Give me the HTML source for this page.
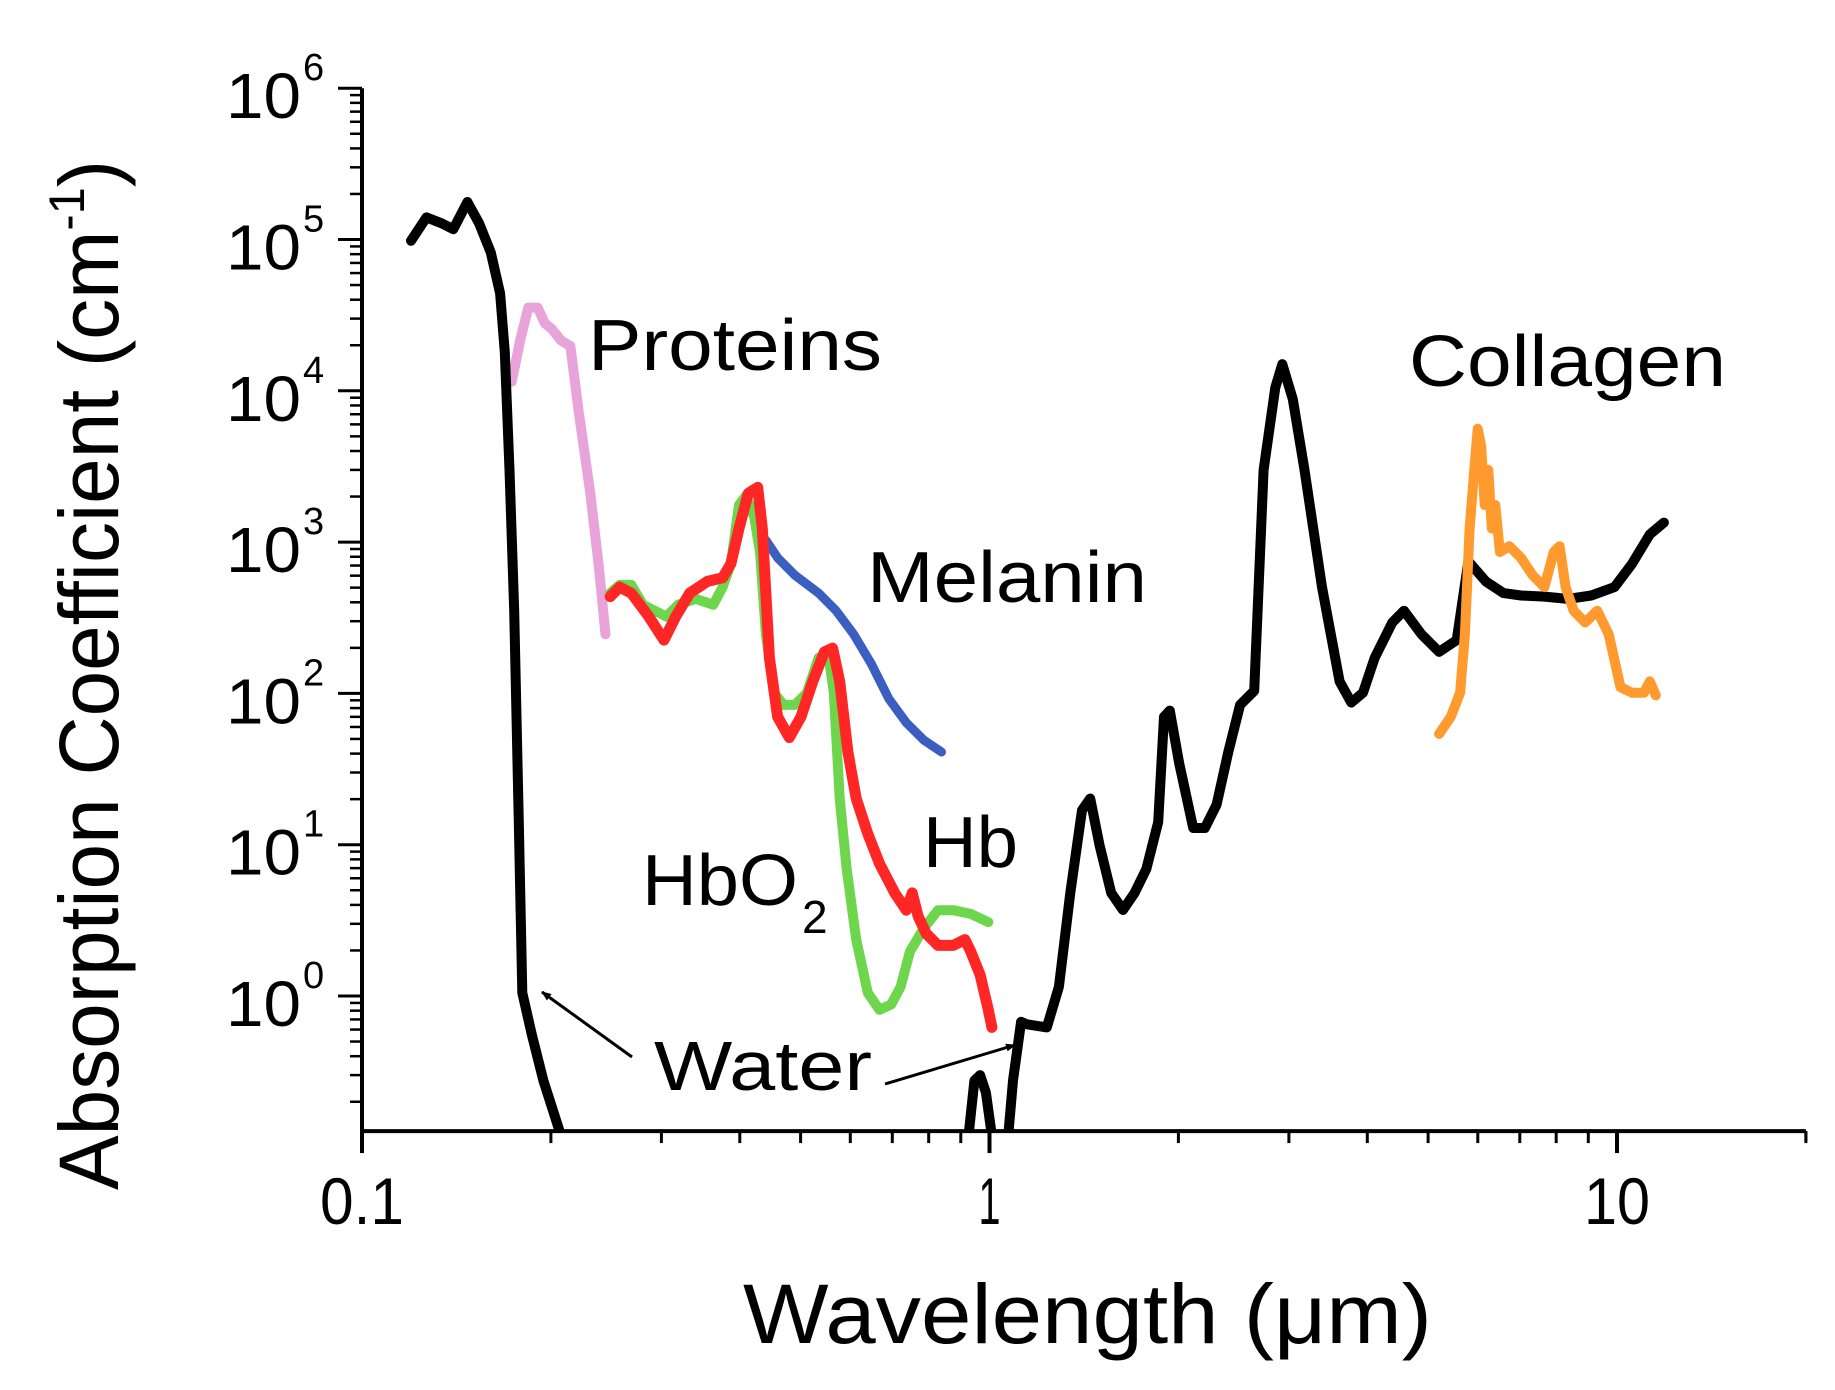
<!DOCTYPE html>
<html><head><meta charset="utf-8"><style>
html,body{margin:0;padding:0;background:#fff;}
svg{display:block;}
text{font-family:"Liberation Sans",sans-serif;fill:#000;}
</style></head><body>
<svg id="chart" width="1835" height="1390" viewBox="0 0 1835 1390" xmlns="http://www.w3.org/2000/svg">
<defs>
<clipPath id="plotclip"><rect x="362" y="60" width="1450" height="1071"/></clipPath>
<marker id="ah" markerWidth="10" markerHeight="8" refX="9" refY="4" orient="auto" markerUnits="userSpaceOnUse"><path d="M0,0 L10,4 L0,8 Z" fill="#000"/></marker>
</defs>
<g id="axes"></g>
<g id="series" clip-path="url(#plotclip)"></g>
<g id="labels">
<text transform="translate(118,1190) rotate(-90)" font-size="84" textLength="1030" lengthAdjust="spacingAndGlyphs">Absorption Coefficient (cm<tspan font-size="50" dy="-34">-1</tspan><tspan dy="34">)</tspan></text>
<text x="743" y="1343" font-size="84" textLength="689" lengthAdjust="spacingAndGlyphs">Wavelength (μm)</text>
<text x="588" y="370" font-size="72" textLength="294" lengthAdjust="spacingAndGlyphs">Proteins</text>
<text x="867" y="602" font-size="72" textLength="280" lengthAdjust="spacingAndGlyphs">Melanin</text>
<text x="1409" y="386" font-size="72" textLength="317" lengthAdjust="spacingAndGlyphs">Collagen</text>
<text x="923" y="867" font-size="72" textLength="95" lengthAdjust="spacingAndGlyphs">Hb</text>
<text x="642" y="905" font-size="72"><tspan textLength="156" lengthAdjust="spacingAndGlyphs">HbO</tspan><tspan font-size="46" dy="28" dx="4">2</tspan></text>
<text x="654" y="1090" font-size="70" textLength="218" lengthAdjust="spacingAndGlyphs">Water</text>
<line x1="632" y1="1057" x2="542" y2="992" stroke="#000" stroke-width="3" marker-end="url(#ah)"/>
<line x1="885" y1="1084" x2="1015" y2="1045" stroke="#000" stroke-width="3" marker-end="url(#ah)"/>
</g>
</svg>
<script>
// axis setup
const xTicksMajor = [0.1, 1, 10];
const xTickLabels = ["0.1", "1", "10"];
const yExp = [0, 1, 2, 3, 4, 5, 6];

// Water (UV segment)
const waterUVx = [0.1197,0.1267,0.1339,0.1398,0.1472,0.1537,0.1604,0.1660,0.1689,0.1718,0.1748,0.1778,0.1801,0.1864,0.1946,0.2076];
const waterUVy = [9.8e4,1.4e5,1.28e5,1.17e5,1.77e5,1.28e5,8.2e4,4.4e4,1.8e4,3000,352,14,1.05,0.56,0.276,0.119];
// Water (near 1um small peak)
const waterPkx = [0.926,0.946,0.966,0.987,1.009];
const waterPky = [0.119,0.276,0.30,0.23,0.119];
// Water (IR)
const waterIRx = [1.071,1.090,1.123,1.147,1.234,1.290,1.345,1.404,1.447,1.498,1.563,1.632,1.703,1.778,1.857,1.897,1.938,2.006,2.112,2.204,2.301,2.402,2.508,2.641,2.734,2.854,2.928,3.043,3.177,3.388,3.613,3.772,3.937,4.110,4.384,4.576,4.880,5.206,5.553,5.797,6.180,6.592,7.031,7.66,8.35,9.10,9.91,10.57,11.28,11.88];
const waterIRy = [0.119,0.276,0.675,0.65,0.62,1.15,4.8,16.9,20.2,9.9,4.8,3.7,4.8,6.9,14.1,70,77,34.5,12.9,12.9,18.4,41,84,104,3000,1.05e4,1.5e4,8800,3000,504,120,87,101,172,294,352,246,188,225,746,550,460,444,436,421,444,504,720,1125,1345];
// Proteins
const protX = [0.1733,0.1786,0.1841,0.1905,0.1955,0.2006,0.2076,0.2148,0.2214,0.2311,0.2382,0.2444];
const protY = [1.15e4,2.15e4,3.55e4,3.55e4,2.8e4,2.57e4,2.15e4,1.97e4,7350,2100,720,246];
// HbO2
const hbo2X = [0.2486,0.2573,0.2686,0.2804,0.2927,0.3055,0.3190,0.3402,0.3629,0.3755,0.3871,0.3988,0.4092,0.4217,0.4308,0.4402,0.4536,0.4695,0.4900,0.5117,0.5342,0.5529,0.5648,0.5771,0.5922,0.6131,0.6397,0.6679,0.6973,0.7217,0.7469,0.7863,0.8278,0.8754,0.9335,0.9956];
const hbo2Y = [460,521,521,385,352,322,385,421,385,504,720,1760,2030,1470,860,246,101,84,84,101,172,188,101,20.2,6.9,2.36,1.05,0.81,0.88,1.15,1.97,2.82,3.69,3.69,3.49,3.08];
// Hb
const hbX = [0.2486,0.2573,0.2686,0.2865,0.3029,0.3162,0.3330,0.3551,0.3755,0.3871,0.3988,0.4127,0.4271,0.4345,0.4459,0.4595,0.4797,0.5008,0.5229,0.5457,0.5623,0.5771,0.5948,0.6131,0.6397,0.6679,0.7063,0.7370,0.7530,0.7695,0.7930,0.8278,0.8754,0.9137,0.9335,0.966,0.9956,1.009];
const hbY = [436,504,460,322,225,322,460,550,581,720,1230,2100,2300,1230,172,70,51,70,120,188,199,120,41,20.2,11.8,7.5,4.8,3.69,4.8,3.37,2.58,2.16,2.16,2.36,1.97,1.38,0.81,0.62];
// Melanin
const melX = [0.4402,0.4595,0.4900,0.5342,0.5696,0.6076,0.6482,0.6914,0.7370,0.7863,0.8386];
const melY = [1030,787,602,460,352,246,157,92,64,49,41];
// Collagen
const colX = [5.206,5.434,5.623,5.723,5.822,5.923,5.998,6.076,6.155,6.235,6.316,6.397,6.508,6.736,7.031,7.340,7.66,7.93,8.10,8.28,8.53,8.90,9.30,9.70,10.13,10.57,11.04,11.28,11.53];
const colY = [54,70,101,246,1230,3000,5620,4300,1760,3000,1230,1760,860,940,787,602,504,860,940,504,352,294,352,246,110,101,101,120,97];

const X0 = 362, XDEC = 627.5, Y0 = 996, YDEC = 151.3, XMAX = 20, YMIN = 0.128, YMAXE = 6;
function sx(v){ return X0 + Math.log10(v/0.1)*XDEC; }
function sy(v){ return Y0 - Math.log10(v)*YDEC; }
const NS = "http://www.w3.org/2000/svg";
const axes = document.getElementById('axes');
const series = document.getElementById('series');
function mk(tag, attrs, parent){ const e=document.createElementNS(NS,tag); for(const k in attrs) e.setAttribute(k,attrs[k]); parent.appendChild(e); return e; }

const yTop = sy(Math.pow(10,YMAXE)), yBot = sy(YMIN), xRight = sx(XMAX);
let ax = mk('line',{x1:X0,y1:yTop,x2:X0,y2:yBot+20,stroke:'#000','stroke-width':4},axes);


let bx = mk('line',{x1:X0,y1:yBot,x2:xRight,y2:yBot,stroke:'#000','stroke-width':4},axes);


for(let e=-1;e<=YMAXE;e++){
  for(let m=1;m<10;m++){
    const v = m*Math.pow(10,e);
    if(v<YMIN || v>Math.pow(10,YMAXE)) continue;
    const y = sy(v);
    const len = m===1?24:12;
    const t = mk('line',{x1:X0-len,y1:y,x2:X0,y2:y,stroke:'#000','stroke-width':m===1?3:2.5},axes);
    
    
  }
}
yExp.forEach(e=>{
  const y = sy(Math.pow(10,e));
  const t = mk('text',{x:226,y:y+30,'font-size':64,textLength:75,lengthAdjust:'spacingAndGlyphs'},axes);
  
  
  t.textContent='10';
  const s = mk('text',{x:303,y:y-8,'font-size':38},axes);
  
  
  s.textContent=String(e);
});
for(let e=-1;e<=1;e++){
  for(let m=1;m<10;m++){
    const v=m*Math.pow(10,e);
    if(v>XMAX) continue;
    const x=sx(v);
    const len=m===1?22:12;
    const t=mk('line',{x1:x,y1:yBot,x2:x,y2:yBot+len,stroke:'#000','stroke-width':m===1?4:3},axes);
    
    
  }
}
const endT = mk('line',{x1:xRight,y1:yBot,x2:xRight,y2:yBot+10,stroke:'#000','stroke-width':3},axes);


const xLabW = [84, 22, 66];
xTicksMajor.forEach((v,i)=>{
  const t=mk('text',{x:sx(v)-xLabW[i]/2,y:1224,'font-size':66,textLength:xLabW[i],lengthAdjust:'spacingAndGlyphs'},axes);
  
  
  t.textContent=xTickLabels[i];
});
function line(xs,ys,color,name,w){
  const d = xs.map((x,i)=>(i?'L':'M')+sx(x).toFixed(1)+','+sy(ys[i]).toFixed(1)).join(' ');
  const p = mk('path',{d:d,fill:'none',stroke:color,'stroke-width':w,'stroke-linejoin':'round','stroke-linecap':'round'},series);
  
  
}
line(protX,protY,'#e8a3da','proteins-line',10);
line(melX,melY,'#3b5fc0','melanin-line',9);
line(hbo2X,hbo2Y,'#6dd64c','hbo2-line',10);
line(hbX,hbY,'#ff2626','hb-line',11);
line(waterUVx,waterUVy,'#000','water-uv-line',10);
line(waterPkx,waterPky,'#000','water-peak-line',10);
line(waterIRx,waterIRy,'#000','water-ir-line',10);
line(colX,colY,'#ff9a2e','collagen-line',10);
</script>
</body></html>
